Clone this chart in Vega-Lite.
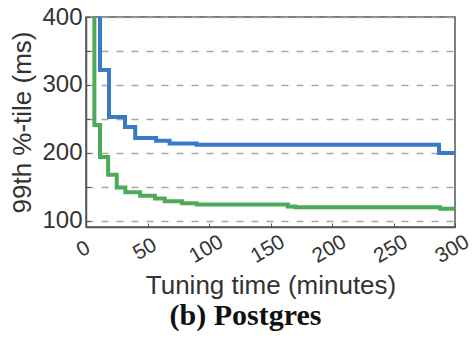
{
  "$schema": "https://vega.github.io/schema/vega-lite/v6.json",
  "width": 369,
  "height": 210,
  "autosize": {"type": "none"},
  "padding": {"left": 86, "top": 17, "right": 20, "bottom": 113},
  "background": "white",
  "config": {
    "view": {"stroke": "#555555", "strokeWidth": 1.5},
    "axis": {"labelFont": "Liberation Sans", "titleFont": "Liberation Sans", "labelColor": "#333333", "titleColor": "#333333"}
  },
  "title": {
    "text": "(b) Postgres",
    "orient": "bottom",
    "anchor": "middle",
    "font": "Liberation Serif",
    "fontSize": 30,
    "fontWeight": "bold",
    "color": "#111111",
    "offset": 3,
    "dx": -25
  },
  "data": {
    "values": [
      {"series": "A", "t": 0, "v": 600},
      {"series": "A", "t": 11.4, "v": 322},
      {"series": "A", "t": 18.7, "v": 253},
      {"series": "A", "t": 31.7, "v": 238},
      {"series": "A", "t": 40, "v": 222},
      {"series": "A", "t": 57, "v": 218},
      {"series": "A", "t": 68, "v": 214},
      {"series": "A", "t": 90, "v": 212},
      {"series": "A", "t": 287, "v": 200},
      {"series": "A", "t": 300, "v": 200},
      {"series": "B", "t": 0, "v": 600},
      {"series": "B", "t": 6.8, "v": 241},
      {"series": "B", "t": 11.4, "v": 194},
      {"series": "B", "t": 18, "v": 168},
      {"series": "B", "t": 25, "v": 149},
      {"series": "B", "t": 32, "v": 142},
      {"series": "B", "t": 44, "v": 137},
      {"series": "B", "t": 56, "v": 133},
      {"series": "B", "t": 64, "v": 129},
      {"series": "B", "t": 78, "v": 126},
      {"series": "B", "t": 90, "v": 124},
      {"series": "B", "t": 164, "v": 121},
      {"series": "B", "t": 170, "v": 120},
      {"series": "B", "t": 288, "v": 118},
      {"series": "B", "t": 300, "v": 118}
    ]
  },
  "mark": {"type": "line", "interpolate": "step-after", "clip": true, "strokeWidth": 4},
  "encoding": {
    "x": {
      "field": "t",
      "type": "quantitative",
      "scale": {"domain": [0, 300], "nice": false},
      "axis": {
        "title": "Tuning time (minutes)",
        "titleFontSize": 26,
        "titleFontWeight": "normal",
        "titlePadding": 6,
        "values": [0, 50, 100, 150, 200, 250, 300],
        "labelFontSize": 21,
        "labelAngle": -30,
        "labelAlign": "center",
        "labelBaseline": "middle",
        "labelPadding": 26,
        "labelOffset": -3,
        "labelBound": false,
        "tickSize": -4,
        "tickColor": "#555555",
        "domainColor": "#555555",
        "domainWidth": 1.5,
        "grid": false
      }
    },
    "y": {
      "field": "v",
      "type": "quantitative",
      "scale": {"domain": [91, 400], "nice": false, "zero": false},
      "axis": {
        "title": "99th %-tile (ms)",
        "titleFontSize": 26,
        "titleFontWeight": "normal",
        "titlePadding": 6,
        "values": [100, 150, 200, 250, 300, 350, 400],
        "labelExpr": "datum.value % 100 === 0 ? datum.label : ''",
        "labelFontSize": 24,
        "labelPadding": 8,
        "tickSize": -4,
        "tickColor": "#555555",
        "domainColor": "#555555",
        "domainWidth": 1.5,
        "grid": true,
        "gridColor": "#a8a8a8",
        "gridWidth": 1.5,
        "gridDash": [7, 8]
      }
    },
    "color": {
      "field": "series",
      "type": "nominal",
      "scale": {"domain": ["A", "B"], "range": ["#3a78c8", "#4caa58"]},
      "legend": null
    }
  }
}
